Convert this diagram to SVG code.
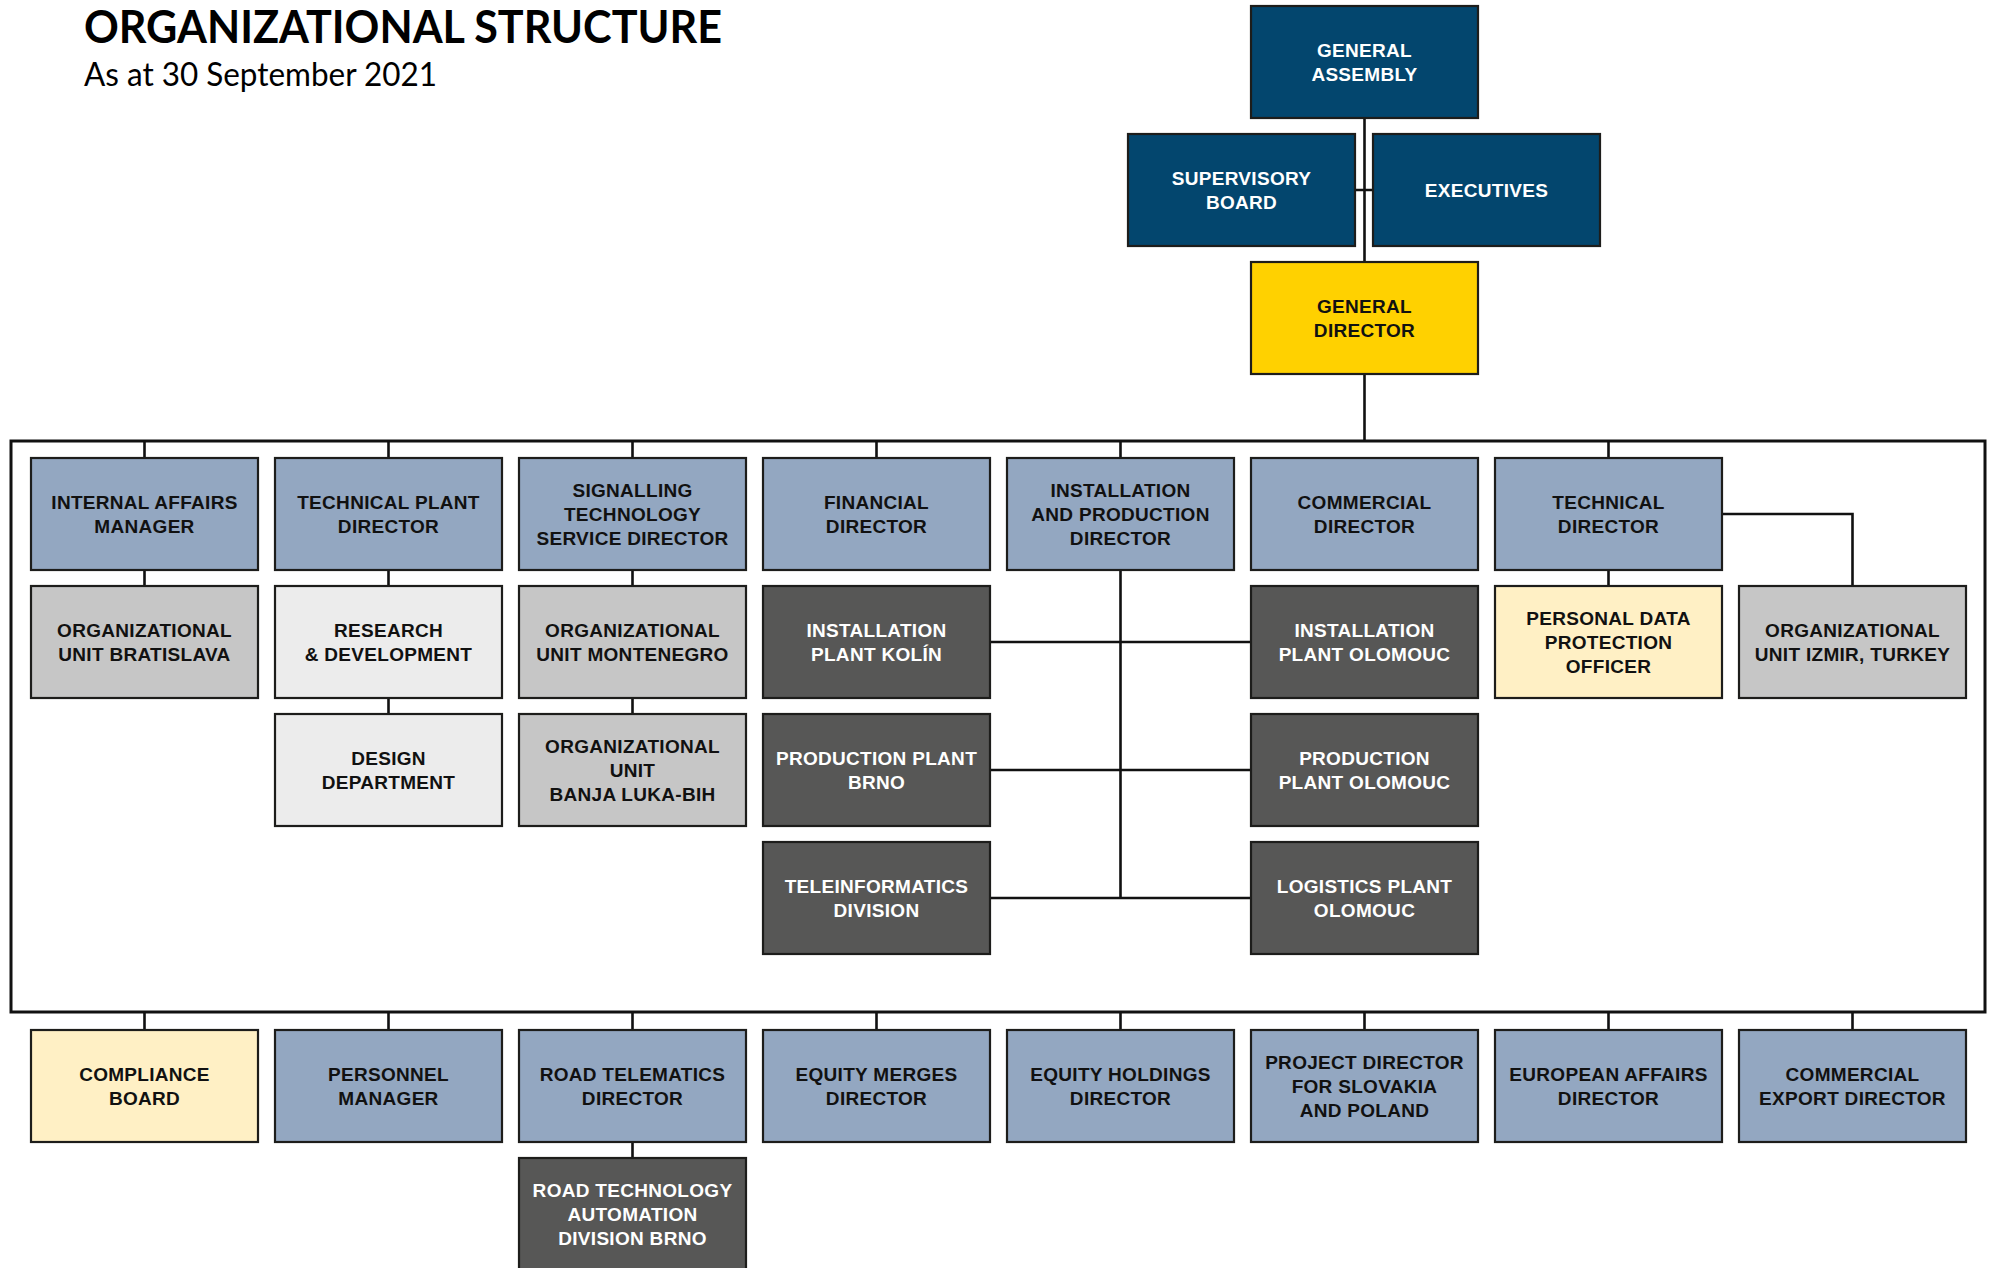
<svg xmlns="http://www.w3.org/2000/svg" width="1991" height="1268" viewBox="0 0 1991 1268">
<style>
.b{stroke:#1d1d1b;stroke-width:2.2}
.navy{fill:#03466e}
.gold{fill:#ffd100}
.blue{fill:#93a7c1}
.gray{fill:#c6c6c6}
.lgray{fill:#ececec}
.dark{fill:#575756}
.ly{fill:#fff0c5}
text.t{font-family:"Liberation Sans",Arial,sans-serif;font-weight:bold;font-size:19px;letter-spacing:0.3px;text-anchor:middle}
.w{fill:#ffffff}
.k{fill:#111111}
.ln{stroke:#111;stroke-width:2.6;fill:none}
</style>
<rect width="1991" height="1268" fill="#ffffff"/>
<text x="84" y="43" font-family="Lato,'Open Sans',sans-serif" font-weight="bold" font-size="45" textLength="638" lengthAdjust="spacingAndGlyphs" fill="#000">ORGANIZATIONAL STRUCTURE</text>
<text x="84" y="86" font-family="Lato,'Open Sans',sans-serif" font-size="32" textLength="353" lengthAdjust="spacingAndGlyphs" fill="#000">As at 30 September 2021</text>

<g id="connectors">
<path class="ln" d="M1364.5 118V262M1364.5 374V441M1355 190H1373"/>
<rect x="11" y="441" width="1974" height="571" class="ln" style="stroke-width:3"/>
<path class="ln" d="M144.5 441V458M388.5 441V458M632.5 441V458M876.5 441V458M1120.5 441V458M1608.5 441V458"/>
<path class="ln" d="M144.5 570V586M388.5 570V586M632.5 570V586M1608.5 570V586M388.5 698V714M632.5 698V714"/>
<path class="ln" d="M1120.5 570V898M990 642H1251M990 770H1251M990 898H1251"/>
<path class="ln" d="M1722 514H1852.5V586"/>
<path class="ln" d="M144.5 1012V1030M388.5 1012V1030M632.5 1012V1030M876.5 1012V1030M1120.5 1012V1030M1364.5 1012V1030M1608.5 1012V1030M1852.5 1012V1030M632.5 1142V1158"/>
</g>

<g id="general-assembly"><rect x="1251" y="6" width="227" height="112" class="b navy"/><text class="t w" x="1364.5" y="57">GENERAL</text><text class="t w" x="1364.5" y="81">ASSEMBLY</text></g>
<g id="supervisory-board"><rect x="1128" y="134" width="227" height="112" class="b navy"/><text class="t w" x="1241.5" y="185">SUPERVISORY</text><text class="t w" x="1241.5" y="209">BOARD</text></g>
<g id="executives"><rect x="1373" y="134" width="227" height="112" class="b navy"/><text class="t w" x="1486.5" y="197">EXECUTIVES</text></g>
<g id="general-director"><rect x="1251" y="262" width="227" height="112" class="b gold"/><text class="t k" x="1364.5" y="313">GENERAL</text><text class="t k" x="1364.5" y="337">DIRECTOR</text></g>

<g id="internal-affairs-manager"><rect x="31" y="458" width="227" height="112" class="b blue"/><text class="t k" x="144.5" y="509">INTERNAL AFFAIRS</text><text class="t k" x="144.5" y="533">MANAGER</text></g>
<g id="technical-plant-director"><rect x="275" y="458" width="227" height="112" class="b blue"/><text class="t k" x="388.5" y="509">TECHNICAL PLANT</text><text class="t k" x="388.5" y="533">DIRECTOR</text></g>
<g id="signalling-director"><rect x="519" y="458" width="227" height="112" class="b blue"/><text class="t k" x="632.5" y="497">SIGNALLING</text><text class="t k" x="632.5" y="521">TECHNOLOGY</text><text class="t k" x="632.5" y="545">SERVICE DIRECTOR</text></g>
<g id="financial-director"><rect x="763" y="458" width="227" height="112" class="b blue"/><text class="t k" x="876.5" y="509">FINANCIAL</text><text class="t k" x="876.5" y="533">DIRECTOR</text></g>
<g id="installation-production-director"><rect x="1007" y="458" width="227" height="112" class="b blue"/><text class="t k" x="1120.5" y="497">INSTALLATION</text><text class="t k" x="1120.5" y="521">AND PRODUCTION</text><text class="t k" x="1120.5" y="545">DIRECTOR</text></g>
<g id="commercial-director"><rect x="1251" y="458" width="227" height="112" class="b blue"/><text class="t k" x="1364.5" y="509">COMMERCIAL</text><text class="t k" x="1364.5" y="533">DIRECTOR</text></g>
<g id="technical-director"><rect x="1495" y="458" width="227" height="112" class="b blue"/><text class="t k" x="1608.5" y="509">TECHNICAL</text><text class="t k" x="1608.5" y="533">DIRECTOR</text></g>

<g id="ou-bratislava"><rect x="31" y="586" width="227" height="112" class="b gray"/><text class="t k" x="144.5" y="637">ORGANIZATIONAL</text><text class="t k" x="144.5" y="661">UNIT BRATISLAVA</text></g>
<g id="research-development"><rect x="275" y="586" width="227" height="112" class="b lgray"/><text class="t k" x="388.5" y="637">RESEARCH</text><text class="t k" x="388.5" y="661">&amp; DEVELOPMENT</text></g>
<g id="ou-montenegro"><rect x="519" y="586" width="227" height="112" class="b gray"/><text class="t k" x="632.5" y="637">ORGANIZATIONAL</text><text class="t k" x="632.5" y="661">UNIT MONTENEGRO</text></g>
<g id="installation-plant-kolin"><rect x="763" y="586" width="227" height="112" class="b dark"/><text class="t w" x="876.5" y="637">INSTALLATION</text><text class="t w" x="876.5" y="661">PLANT KOLÍN</text></g>
<g id="installation-plant-olomouc"><rect x="1251" y="586" width="227" height="112" class="b dark"/><text class="t w" x="1364.5" y="637">INSTALLATION</text><text class="t w" x="1364.5" y="661">PLANT OLOMOUC</text></g>
<g id="personal-data-officer"><rect x="1495" y="586" width="227" height="112" class="b ly"/><text class="t k" x="1608.5" y="625">PERSONAL DATA</text><text class="t k" x="1608.5" y="649">PROTECTION</text><text class="t k" x="1608.5" y="673">OFFICER</text></g>
<g id="ou-izmir"><rect x="1739" y="586" width="227" height="112" class="b gray"/><text class="t k" x="1852.5" y="637">ORGANIZATIONAL</text><text class="t k" x="1852.5" y="661">UNIT IZMIR, TURKEY</text></g>

<g id="design-department"><rect x="275" y="714" width="227" height="112" class="b lgray"/><text class="t k" x="388.5" y="765">DESIGN</text><text class="t k" x="388.5" y="789">DEPARTMENT</text></g>
<g id="ou-banja-luka"><rect x="519" y="714" width="227" height="112" class="b gray"/><text class="t k" x="632.5" y="753">ORGANIZATIONAL</text><text class="t k" x="632.5" y="777">UNIT</text><text class="t k" x="632.5" y="801">BANJA LUKA-BIH</text></g>
<g id="production-plant-brno"><rect x="763" y="714" width="227" height="112" class="b dark"/><text class="t w" x="876.5" y="765">PRODUCTION PLANT</text><text class="t w" x="876.5" y="789">BRNO</text></g>
<g id="production-plant-olomouc"><rect x="1251" y="714" width="227" height="112" class="b dark"/><text class="t w" x="1364.5" y="765">PRODUCTION</text><text class="t w" x="1364.5" y="789">PLANT OLOMOUC</text></g>

<g id="teleinformatics-division"><rect x="763" y="842" width="227" height="112" class="b dark"/><text class="t w" x="876.5" y="893">TELEINFORMATICS</text><text class="t w" x="876.5" y="917">DIVISION</text></g>
<g id="logistics-plant-olomouc"><rect x="1251" y="842" width="227" height="112" class="b dark"/><text class="t w" x="1364.5" y="893">LOGISTICS PLANT</text><text class="t w" x="1364.5" y="917">OLOMOUC</text></g>

<g id="compliance-board"><rect x="31" y="1030" width="227" height="112" class="b ly"/><text class="t k" x="144.5" y="1081">COMPLIANCE</text><text class="t k" x="144.5" y="1105">BOARD</text></g>
<g id="personnel-manager"><rect x="275" y="1030" width="227" height="112" class="b blue"/><text class="t k" x="388.5" y="1081">PERSONNEL</text><text class="t k" x="388.5" y="1105">MANAGER</text></g>
<g id="road-telematics-director"><rect x="519" y="1030" width="227" height="112" class="b blue"/><text class="t k" x="632.5" y="1081">ROAD TELEMATICS</text><text class="t k" x="632.5" y="1105">DIRECTOR</text></g>
<g id="equity-merges-director"><rect x="763" y="1030" width="227" height="112" class="b blue"/><text class="t k" x="876.5" y="1081">EQUITY MERGES</text><text class="t k" x="876.5" y="1105">DIRECTOR</text></g>
<g id="equity-holdings-director"><rect x="1007" y="1030" width="227" height="112" class="b blue"/><text class="t k" x="1120.5" y="1081">EQUITY HOLDINGS</text><text class="t k" x="1120.5" y="1105">DIRECTOR</text></g>
<g id="project-director"><rect x="1251" y="1030" width="227" height="112" class="b blue"/><text class="t k" x="1364.5" y="1069">PROJECT DIRECTOR</text><text class="t k" x="1364.5" y="1093">FOR SLOVAKIA</text><text class="t k" x="1364.5" y="1117">AND POLAND</text></g>
<g id="european-affairs-director"><rect x="1495" y="1030" width="227" height="112" class="b blue"/><text class="t k" x="1608.5" y="1081">EUROPEAN AFFAIRS</text><text class="t k" x="1608.5" y="1105">DIRECTOR</text></g>
<g id="commercial-export-director"><rect x="1739" y="1030" width="227" height="112" class="b blue"/><text class="t k" x="1852.5" y="1081">COMMERCIAL</text><text class="t k" x="1852.5" y="1105">EXPORT DIRECTOR</text></g>

<g id="road-technology-automation"><rect x="519" y="1158" width="227" height="112" class="b dark"/><text class="t w" x="632.5" y="1197">ROAD TECHNOLOGY</text><text class="t w" x="632.5" y="1221">AUTOMATION</text><text class="t w" x="632.5" y="1245">DIVISION BRNO</text></g>
</svg>
